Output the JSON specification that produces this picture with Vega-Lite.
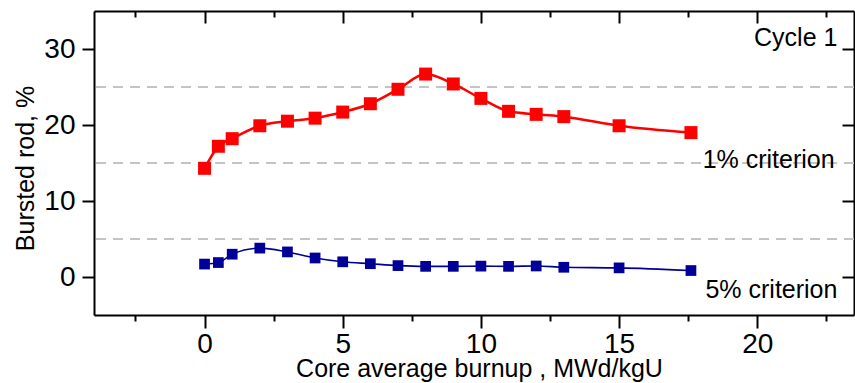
{
  "$schema": "https://vega.github.io/schema/vega-lite/v6.json",
  "width": 760,
  "height": 304,
  "autosize": {"type": "none"},
  "padding": {"left": 94, "top": 11, "right": 1, "bottom": 68},
  "background": "white",
  "config": {
    "view": {"stroke": null},
    "font": "Liberation Sans",
    "axis": {"grid": false, "domainColor": "black", "domainWidth": 2, "tickColor": "black", "tickWidth": 2, "labelColor": "black", "titleColor": "black", "labelFont": "Liberation Sans", "titleFont": "Liberation Sans", "titleFontWeight": "normal"}
  },
  "data": {
    "values": [
      {"burnup": 0, "pct": 14.3, "series": "1%"},
      {"burnup": 0.5, "pct": 17.2, "series": "1%"},
      {"burnup": 1, "pct": 18.2, "series": "1%"},
      {"burnup": 2, "pct": 19.9, "series": "1%"},
      {"burnup": 3, "pct": 20.5, "series": "1%"},
      {"burnup": 4, "pct": 20.9, "series": "1%"},
      {"burnup": 5, "pct": 21.7, "series": "1%"},
      {"burnup": 6, "pct": 22.8, "series": "1%"},
      {"burnup": 7, "pct": 24.7, "series": "1%"},
      {"burnup": 8, "pct": 26.7, "series": "1%"},
      {"burnup": 9, "pct": 25.4, "series": "1%"},
      {"burnup": 10, "pct": 23.5, "series": "1%"},
      {"burnup": 11, "pct": 21.8, "series": "1%"},
      {"burnup": 12, "pct": 21.4, "series": "1%"},
      {"burnup": 13, "pct": 21.1, "series": "1%"},
      {"burnup": 15, "pct": 19.9, "series": "1%"},
      {"burnup": 17.6, "pct": 19.0, "series": "1%"},
      {"burnup": 0, "pct": 1.7, "series": "5%"},
      {"burnup": 0.5, "pct": 1.9, "series": "5%"},
      {"burnup": 1, "pct": 3.0, "series": "5%"},
      {"burnup": 2, "pct": 3.8, "series": "5%"},
      {"burnup": 3, "pct": 3.3, "series": "5%"},
      {"burnup": 4, "pct": 2.5, "series": "5%"},
      {"burnup": 5, "pct": 2.0, "series": "5%"},
      {"burnup": 6, "pct": 1.75, "series": "5%"},
      {"burnup": 7, "pct": 1.5, "series": "5%"},
      {"burnup": 8, "pct": 1.4, "series": "5%"},
      {"burnup": 9, "pct": 1.4, "series": "5%"},
      {"burnup": 10, "pct": 1.43, "series": "5%"},
      {"burnup": 11, "pct": 1.4, "series": "5%"},
      {"burnup": 12, "pct": 1.45, "series": "5%"},
      {"burnup": 13, "pct": 1.28, "series": "5%"},
      {"burnup": 15, "pct": 1.2, "series": "5%"},
      {"burnup": 17.6, "pct": 0.85, "series": "5%"}
    ]
  },
  "resolve": {"axis": {"x": "independent", "y": "independent"}},
  "layer": [
    {
      "data": {"values": [{"level": 5}, {"level": 15}, {"level": 25}]},
      "mark": {"type": "rule", "color": "#c4c4c4", "strokeWidth": 2, "strokeDash": [10, 7]},
      "encoding": {
        "y": {"field": "level", "type": "quantitative", "scale": {"domain": [-5, 35], "nice": false, "zero": false}, "axis": null}
      }
    },
    {
      "mark": {"type": "line", "interpolate": "monotone"},
      "encoding": {
        "x": {"field": "burnup", "type": "quantitative", "scale": {"domain": [-4, 23.5], "nice": false, "zero": false},
          "axis": {"orient": "bottom", "values": [-2.5, 0, 2.5, 5, 7.5, 10, 12.5, 15, 17.5, 20, 22.5],
            "tickSize": {"condition": {"test": "datum.value % 5 === 0", "value": 13}, "value": 6},
            "labelExpr": "datum.value % 5 === 0 ? datum.label : ''",
            "labelFontSize": 28, "labelBaseline": "alphabetic", "labelPadding": 24, "labelFlush": false, "labelOverlap": false,
            "title": "Core average burnup , MWd/kgU", "titleFontSize": 25, "titleBaseline": "alphabetic", "titleX": 385, "titleY": 61.5, "titleAlign": "center"}},
        "y": {"field": "pct", "type": "quantitative", "scale": {"domain": [-5, 35], "nice": false, "zero": false},
          "axis": {"orient": "left", "values": [0, 10, 20, 30], "tickSize": 12, "labelFontSize": 28, "labelPadding": 7,
            "title": "Bursted rod, %", "titleFontSize": 25, "titleBaseline": "alphabetic", "titleAngle": 270, "titleX": -61, "titleY": 157, "titleAlign": "center"}},
        "color": {"field": "series", "type": "nominal", "scale": {"domain": ["1%", "5%"], "range": ["#ff0000", "#000099"]}, "legend": null},
        "strokeWidth": {"field": "series", "type": "nominal", "scale": {"domain": ["1%", "5%"], "range": [2.5, 1.6]}, "legend": null}
      }
    },
    {
      "mark": {"type": "point", "shape": "square", "filled": true, "opacity": 1},
      "encoding": {
        "x": {"field": "burnup", "type": "quantitative", "scale": {"domain": [-4, 23.5], "nice": false, "zero": false}, "axis": null},
        "y": {"field": "pct", "type": "quantitative", "scale": {"domain": [-5, 35], "nice": false, "zero": false}, "axis": null},
        "color": {"field": "series", "type": "nominal", "scale": {"domain": ["1%", "5%"], "range": ["#ff0000", "#000099"]}, "legend": null},
        "size": {"field": "series", "type": "nominal", "scale": {"domain": ["1%", "5%"], "range": [169, 115]}, "legend": null}
      }
    },
    {
      "data": {"values": [
        {"label": "Cycle 1", "lx": 22.9, "ly": 30.4},
        {"label": "1% criterion", "lx": 22.8, "ly": 14.34},
        {"label": "5% criterion", "lx": 22.9, "ly": -2.76}
      ]},
      "mark": {"type": "text", "align": "right", "baseline": "alphabetic", "fontSize": 25, "font": "Liberation Sans", "color": "black"},
      "encoding": {
        "x": {"field": "lx", "type": "quantitative", "scale": {"domain": [-4, 23.5], "nice": false, "zero": false}, "axis": null},
        "y": {"field": "ly", "type": "quantitative", "scale": {"domain": [-5, 35], "nice": false, "zero": false}, "axis": null},
        "text": {"field": "label"}
      }
    },
    {
      "mark": {"type": "point", "opacity": 0},
      "encoding": {
        "x": {"field": "burnup", "type": "quantitative", "scale": {"domain": [-4, 23.5], "nice": false, "zero": false},
          "axis": {"orient": "top", "values": [-2.5, 0, 2.5, 5, 7.5, 10, 12.5, 15, 17.5, 20, 22.5],
            "tickSize": {"condition": {"test": "datum.value % 5 === 0", "value": -12}, "value": -6},
            "labels": false, "title": null}},
        "y": {"field": "pct", "type": "quantitative", "scale": {"domain": [-5, 35], "nice": false, "zero": false},
          "axis": {"orient": "right", "values": [0, 10, 20, 30], "tickSize": -12, "labels": false, "title": null}}
      }
    }
  ]
}
